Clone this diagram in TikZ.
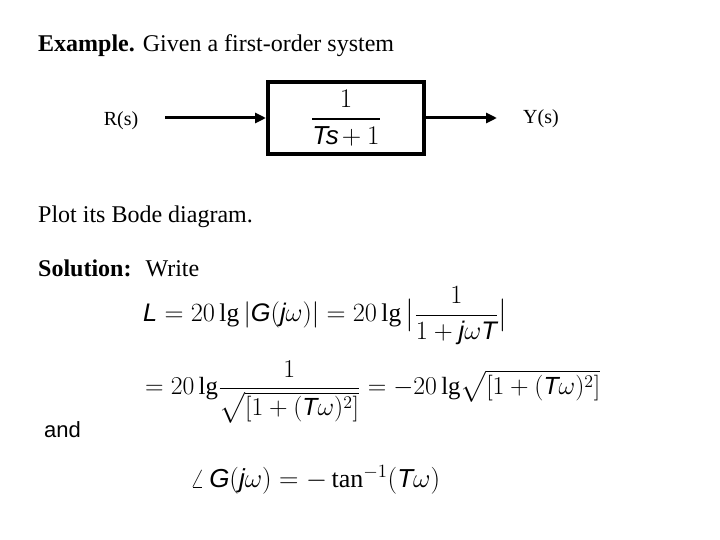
\documentclass[tikz,border=0pt]{standalone}
\usepackage{amsmath}
\usepackage{graphicx}
\usepackage{fontspec}
\setmainfont{Liberation Serif}
\newfontfamily\ars{Liberation Sans}
\usetikzlibrary{arrows.meta}
\newcommand{\vi}[1]{\text{\ars\itshape #1}}
\begin{document}
\begin{tikzpicture}[x=1pt,y=-1pt,
  txt/.style={anchor=west,inner sep=0,font=\fontsize{24}{28}\selectfont},
  lbl/.style={inner sep=0,font=\fontsize{20}{24}\selectfont},
  eq/.style={anchor=west,inner sep=0,font=\fontsize{20}{24}\selectfont},
  conn/.style={line width=3pt,-{Triangle[length=11pt,width=10pt]}}]
\useasboundingbox (0,0) rectangle (720,540);
\node[txt] (ex) at (38,46) {\textbf{Example.} Given a first-order system};
\node[draw,line width=4pt,minimum width=156pt,minimum height=72pt,inner sep=0] (blk) at (346,118)
  {\fontsize{20}{24}\selectfont\scalebox{1.3}{$\dfrac{1}{\vi{Ts}\mkern-2mu+1}$}};
\node[lbl] (r) at (121,121) {R(s)};
\node[lbl] (y) at (541,119) {Y(s)};
\coordinate (rs) at (165,118);
\coordinate (ye) at (497,118);
\draw[conn] (rs) -- (blk.west);
\draw[conn] (blk.east) -- (ye);
\node[txt] (plot) at (38,217) {Plot its Bode diagram.};
\node[txt] (sol) at (38,268) {\textbf{Solution:} \ Write};
\node[txt] (and) at (44,430) {\ars\fontsize{22}{26}\selectfont and};
\node[eq] (e1) at (143,316) {\scalebox{1.27}{$\vi{L}=20\,\mathrm{lg}\,|\vi{G}(\vi{j}\omega)|=20\,\mathrm{lg}\,\big|\dfrac{1}{1+\vi{j}\omega\vi{T}}\big|$}};
\node[eq] (e2) at (145,392) {\scalebox{1.24}{$=20\,\mathrm{lg}\dfrac{1}{\sqrt{[1+(\vi{T}\omega)^2]}}=-20\,\mathrm{lg}\sqrt{[1+(\vi{T}\omega)^2]}$}};
\node[eq] (e3) at (190,480) {\scalebox{1.3}{$\angle\,\vi{G}(\vi{j}\omega)=-\tan^{-1}(\vi{T}\omega)$}};
\end{tikzpicture}
\end{document}
